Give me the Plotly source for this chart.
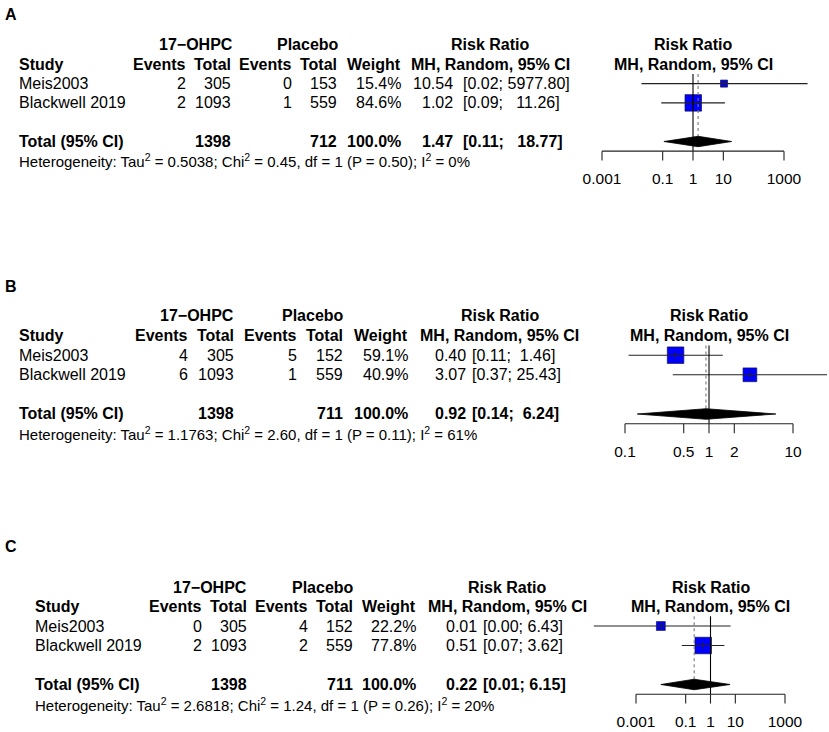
import math

import plotly.graph_objects as go

FONT = "Liberation Sans, Arial, sans-serif"
W, H = 829, 732

studies = ["Meis2003", "Blackwell 2019"]
ticks_wide = [0.001, 0.1, 1, 10, 1000]
ticks_narrow = [0.1, 0.5, 1, 2, 10]

# panel A
a_events_t = [2, 2]
a_total_t = [305, 1093]
a_events_c = [0, 1]
a_total_c = [153, 559]
a_weight = [15.4, 84.6]
a_rr = [10.54, 1.02]
a_lower = [0.02, 0.09]
a_upper = [5977.80, 11.26]
a_pooled = [1.47, 0.11, 18.77]
a_het = [0.5038, 0.45, 1, 0.50, 0]

# panel B
b_events_t = [4, 6]
b_total_t = [305, 1093]
b_events_c = [5, 1]
b_total_c = [152, 559]
b_weight = [59.1, 40.9]
b_rr = [0.40, 3.07]
b_lower = [0.11, 0.37]
b_upper = [1.46, 25.43]
b_pooled = [0.92, 0.14, 6.24]
b_het = [1.1763, 2.60, 1, 0.11, 61]

# panel C
c_events_t = [0, 2]
c_total_t = [305, 1093]
c_events_c = [4, 2]
c_total_c = [152, 559]
c_weight = [22.2, 77.8]
c_rr = [0.01, 0.51]
c_lower = [0.00002, 0.07]
c_upper = [6.43, 3.62]
c_pooled = [0.22, 0.01, 6.15]
c_het = [2.6818, 1.24, 1, 0.26, 20]

fig = go.Figure()
annotations = []


def note(x_px, y, yref, text, anchor, size=16, bold=False):
    if bold:
        text = "<b>" + text + "</b>"
    annotations.append(dict(x=x_px / W, y=y, xref="paper", yref=yref, text=text,
                            xanchor=anchor, yanchor="middle", showarrow=False, borderpad=0,
                            font=dict(family=FONT, size=size, color="black")))


def add_panel(k, label, label_y, ev_t, tot_t, ev_c, tot_c, weight, rr, lower, upper, pooled, het,
              ticks, geo, cols):
    xa = "x" if k == 1 else "x%d" % k
    ya = "y" if k == 1 else "y%d" % k
    row0, step = geo["row0"], geo["step"]

    def row(py):
        return (py - row0) / step

    lo_px, hi_px = geo["tick_px"]
    ppd = (hi_px - lo_px) / (math.log10(ticks[-1]) - math.log10(ticks[0]))
    x_range = [math.log10(ticks[0]) - (lo_px - 560) / ppd, math.log10(ticks[-1]) + (W - hi_px) / ppd]
    fig.layout["xaxis" if k == 1 else "xaxis%d" % k] = dict(
        type="log", domain=[560 / W, 1], range=x_range, visible=False, anchor=ya)
    fig.layout["yaxis" if k == 1 else "yaxis%d" % k] = dict(
        domain=[1 - geo["bottom"] / H, 1 - geo["top"] / H],
        range=[row(geo["bottom"]), row(geo["top"])], visible=False, anchor=xa)

    annotations.append(dict(x=11 / W, y=1 - label_y / H, xref="paper", yref="paper", text="<b>%s</b>" % label,
                            xanchor="center", yanchor="middle", showarrow=False,
                            font=dict(family=FONT, size=16, color="black")))

    # table
    note(cols["h1"], 0, ya, "17\u2212OHPC", "center", bold=True)
    note(cols["h2"], 0, ya, "Placebo", "center", bold=True)
    note(cols["rr"], 0, ya, "Risk Ratio", "center", bold=True)
    note(cols["study"], 1, ya, "Study", "left", bold=True)
    for key, head in [("ev1", "Events"), ("tot1", "Total"), ("ev2", "Events"), ("tot2", "Total"),
                      ("weight", "Weight")]:
        note(cols[key], 1, ya, head, "right", bold=True)
    note(cols["rr"], 1, ya, "MH, Random, 95% CI", "center", bold=True)

    width = max(len("%.2f" % v) for v in upper + [pooled[2]])

    def ci(lo, hi):
        up = "%.2f" % hi
        return "[%.2f;\u00a0%s%s]" % (lo, "\u00a0" * (width - len(up)), up)

    for i, name in enumerate(studies):
        r = 2 + i
        note(cols["study"], r, ya, name, "left")
        note(cols["ev1"], r, ya, str(ev_t[i]), "right")
        note(cols["tot1"], r, ya, str(tot_t[i]), "right")
        note(cols["ev2"], r, ya, str(ev_c[i]), "right")
        note(cols["tot2"], r, ya, str(tot_c[i]), "right")
        note(cols["weight"], r, ya, "%.1f%%" % weight[i], "right")
        note(cols["est"], r, ya, "%.2f" % rr[i], "right")
        note(cols["brk"], r, ya, ci(lower[i], upper[i]), "left")

    note(cols["study"], 5, ya, "Total (95% CI)", "left", bold=True)
    note(cols["tot1"], 5, ya, str(sum(tot_t)), "right", bold=True)
    note(cols["tot2"], 5, ya, str(sum(tot_c)), "right", bold=True)
    note(cols["weight"], 5, ya, "%.1f%%" % sum(weight), "right", bold=True)
    note(cols["est"], 5, ya, "%.2f" % pooled[0], "right", bold=True)
    note(cols["brk"], 5, ya, ci(pooled[1], pooled[2]), "left", bold=True)

    tau2, chi2, df, p, i2 = het
    note(cols["study"], 6, ya,
         "Heterogeneity: Tau<sup>2</sup> = %.4f; Chi<sup>2</sup> = %.2f, df = %d (P = %.2f); I<sup>2</sup> = %d%%"
         % (tau2, chi2, df, p, i2), "left", size=15)

    # forest header
    mid = (lo_px + hi_px) / 2
    note(mid, 0, ya, "Risk Ratio", "center", bold=True)
    note(mid, 1, ya, "MH, Random, 95% CI", "center", bold=True)

    # squares sized by weight
    big = max(weight)
    fig.add_trace(go.Scatter(
        x=rr, y=[2, 3], xaxis=xa, yaxis=ya, mode="markers", hoverinfo="skip", opacity=1,
        marker=dict(symbol="square", color="#0000ff", opacity=1,
                    size=[16.5 * math.sqrt(w / big) for w in weight],
                    line=dict(color="#10104a", width=0.7))))

    # confidence intervals
    xs, ys = [], []
    for i in range(len(studies)):
        xs += [lower[i], upper[i], None]
        ys += [2 + i, 2 + i, None]
    fig.add_trace(go.Scatter(x=xs, y=ys, xaxis=xa, yaxis=ya, mode="lines", hoverinfo="skip",
                             line=dict(color="#222222", width=1.1)))
    fig.add_trace(go.Scatter(
        x=rr, y=[2, 3], xaxis=xa, yaxis=ya, mode="markers", hoverinfo="skip",
        marker=dict(symbol="line-ns", size=5, line=dict(color="#222222", width=1))))

    # reference lines
    fig.add_trace(go.Scatter(x=[1, 1], y=[1.5, 5.5], xaxis=xa, yaxis=ya, mode="lines", hoverinfo="skip",
                             line=dict(color="black", width=1.1)))
    fig.add_trace(go.Scatter(x=[pooled[0], pooled[0]], y=[1.5, 4.74], xaxis=xa, yaxis=ya, mode="lines",
                             hoverinfo="skip", line=dict(color="#777777", width=1.1, dash="dot")))

    # pooled diamond
    h = 0.27
    fig.add_trace(go.Scatter(
        x=[pooled[1], pooled[0], pooled[2], pooled[0], pooled[1]], y=[5, 5 - h, 5, 5 + h, 5],
        xaxis=xa, yaxis=ya, mode="lines", fill="toself", fillcolor="black", hoverinfo="skip",
        line=dict(color="black", width=0.8)))

    # axis
    ax, ay = [ticks[0], ticks[-1], None], [5.5, 5.5, None]
    for t in ticks:
        ax += [t, t, None]
        ay += [5.5, 5.98, None]
    fig.add_trace(go.Scatter(x=ax, y=ay, xaxis=xa, yaxis=ya, mode="lines", hoverinfo="skip",
                             line=dict(color="#222222", width=1.1)))
    fig.add_trace(go.Scatter(
        x=ticks, y=[7.0] * len(ticks), xaxis=xa, yaxis=ya, mode="text", hoverinfo="skip",
        text=["%g" % t for t in ticks], cliponaxis=False,
        textfont=dict(family=FONT, size=15.5, color="black")))


add_panel(1, "A", 15, a_events_t, a_total_t, a_events_c, a_total_c, a_weight, a_rr, a_lower, a_upper,
          a_pooled, a_het, ticks_wide,
          dict(row0=45, step=19.3, top=25, bottom=200, tick_px=(602, 784)),
          dict(study=18, ev1=187, tot1=232, h1=196, ev2=293, tot2=338, h2=308, weight=402, rr=490,
               est=454, brk=462))
add_panel(2, "B", 287, b_events_t, b_total_t, b_events_c, b_total_c, b_weight, b_rr, b_lower, b_upper,
          b_pooled, b_het, ticks_narrow,
          dict(row0=316, step=19.6, top=295, bottom=475, tick_px=(625, 793)),
          dict(study=18, ev1=189, tot1=235, h1=197, ev2=298, tot2=344, h2=313, weight=409, rr=500,
               est=467, brk=471))
add_panel(3, "C", 546, c_events_t, c_total_t, c_events_c, c_total_c, c_weight, c_rr, c_lower, c_upper,
          c_pooled, c_het, ticks_wide,
          dict(row0=587, step=19.5, top=565, bottom=732, tick_px=(636, 785)),
          dict(study=34, ev1=203, tot1=248, h1=210, ev2=309, tot2=354, h2=323, weight=417, rr=507,
               est=478, brk=482))

fig.update_layout(
    width=W, height=H, autosize=False, showlegend=False,
    margin=dict(l=0, r=0, t=0, b=0),
    paper_bgcolor="white", plot_bgcolor="rgba(0,0,0,0)",
    annotations=annotations,
)

fig.write_html("out.html", config={"displayModeBar": False},
               post_script="document.body.style.margin='0';document.body.style.overflow='hidden';")
